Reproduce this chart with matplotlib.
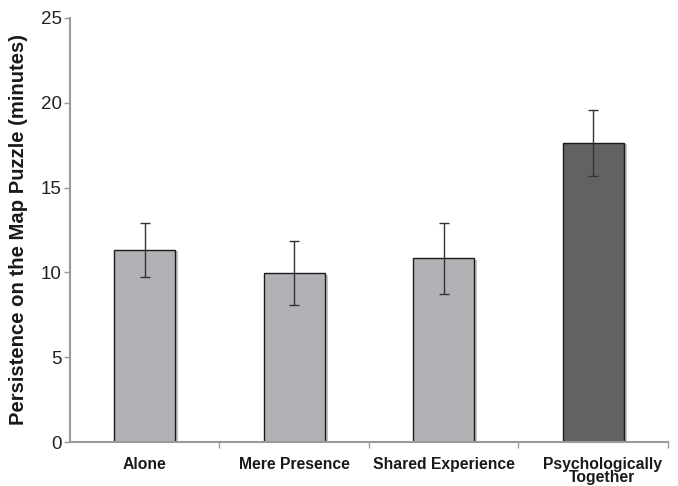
import numpy as np
import matplotlib
matplotlib.use("Agg")
from matplotlib import pyplot as plt
from matplotlib import patheffects as pe
from matplotlib import transforms

plt.rcParams["font.family"] = ["Liberation Sans", "DejaVu Sans"]

conditions = ["Alone", "Mere Presence", "Shared Experience", "Psychologically\nTogether"]
persistence = [11.32, 9.95, 10.83, 17.65]
errors = [1.6, 1.9, 2.1, 1.95]
colors = ["#b1b2b5", "#b1b2b5", "#b1b2b5", "#626264"]

fig = plt.figure(figsize=(6.78, 4.86), dpi=100)
ax = fig.add_axes([0.1032, 0.0905, 0.882, 0.8725])

x = np.arange(len(conditions))
bars = ax.bar(x, persistence, width=0.41, color=colors, edgecolor="#1a1a1a",
              linewidth=1.0, zorder=2)
for b in bars:
    b.set_path_effects([pe.SimplePatchShadow(offset=(2, -1), shadow_rgbFace="#888888", alpha=0.5),
                        pe.Normal()])

ax.errorbar(x, persistence, yerr=errors, fmt="none", ecolor="#333333",
            elinewidth=1.0, capsize=3.5, capthick=1.0, zorder=3)

ax.set_xlim(-0.5, 3.5)
ax.set_ylim(0, 25)
ax.set_yticks([0, 5, 10, 15, 20, 25])

# labels sit under each bar, tick marks go between the groups
ax.set_xticks(x)
ax.set_xticklabels(conditions, fontsize=11.3, fontweight="bold", linespacing=0.85,
                   color="#1a1a1a")
ax.tick_params(axis="x", which="major", length=0, pad=11)
ax.set_xticks([0.5, 1.5, 2.5, 3.5], minor=True)
ax.tick_params(axis="x", which="minor", length=4, color="#999999", width=1)

# last label is nudged a little to the right
last = ax.get_xticklabels()[-1]
last.set_transform(last.get_transform() + transforms.ScaledTranslation(0.09, 0, fig.dpi_scale_trans))

ax.tick_params(axis="y", length=4, color="#999999", width=1, labelsize=13.5,
               labelcolor="#222222", pad=2)

ax.set_ylabel("Persistence on the Map Puzzle (minutes)", fontsize=14.6,
              fontweight="bold", labelpad=9, color="#1a1a1a")

for side in ["top", "right"]:
    ax.spines[side].set_visible(False)
for side in ["left", "bottom"]:
    ax.spines[side].set_color("#999999")
    ax.spines[side].set_linewidth(1.5)

plt.savefig("out.png", dpi=100)
